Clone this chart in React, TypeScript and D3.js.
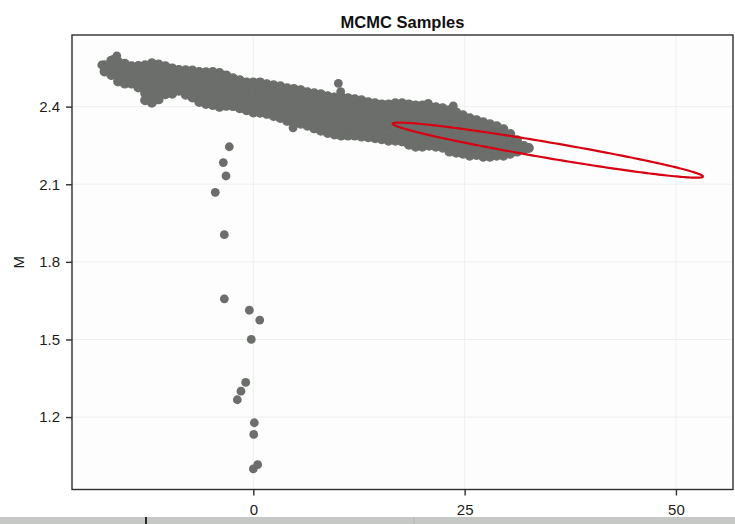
import React, { useEffect, useRef } from "react";
import * as d3 from "d3";

// chart values
const xTicks = [0, 25, 50];
const yTicks = [1.2, 1.5, 1.8, 2.1, 2.4];
const xDomain = [-21.45, 56.75];
const yDomain = [0.92, 2.677];

// dense band of samples, one entry per x column: [x, [M values]]
const bandColumns: [number, number[]][] = [
  [-17.6, [2.56, 2.536]],
  [-16.8, [2.578, 2.55, 2.522]],
  [-16.0, [2.574, 2.547, 2.52, 2.497]],
  [-15.2, [2.566, 2.538, 2.512, 2.489]],
  [-14.4, [2.556, 2.53, 2.505, 2.489]],
  [-13.6, [2.557, 2.529, 2.501, 2.474]],
  [-12.8, [2.56, 2.533, 2.506, 2.479, 2.452, 2.425]],
  [-12.0, [2.568, 2.541, 2.514, 2.487, 2.46, 2.433, 2.415]],
  [-11.2, [2.563, 2.536, 2.509, 2.482, 2.455, 2.428]],
  [-10.4, [2.556, 2.529, 2.502, 2.475, 2.448]],
  [-9.6, [2.548, 2.521, 2.494, 2.467, 2.45]],
  [-8.8, [2.542, 2.515, 2.488, 2.461]],
  [-8.0, [2.541, 2.514, 2.487, 2.46, 2.446]],
  [-7.2, [2.54, 2.512, 2.485, 2.458, 2.435]],
  [-6.4, [2.534, 2.507, 2.48, 2.453, 2.426, 2.418]],
  [-5.6, [2.533, 2.506, 2.479, 2.452, 2.425, 2.41]],
  [-4.8, [2.534, 2.507, 2.48, 2.453, 2.426, 2.406]],
  [-4.0, [2.53, 2.503, 2.476, 2.449, 2.422, 2.399]],
  [-3.2, [2.521, 2.494, 2.467, 2.44, 2.413, 2.403]],
  [-2.4, [2.51, 2.483, 2.456, 2.429, 2.402]],
  [-1.6, [2.502, 2.475, 2.448, 2.421, 2.394]],
  [-0.8, [2.494, 2.467, 2.44, 2.413, 2.386]],
  [0.0, [2.494, 2.467, 2.44, 2.413, 2.386, 2.377]],
  [0.8, [2.494, 2.467, 2.44, 2.413, 2.386, 2.376]],
  [1.6, [2.487, 2.46, 2.433, 2.406, 2.379, 2.372]],
  [2.4, [2.483, 2.456, 2.429, 2.402, 2.375, 2.364]],
  [3.2, [2.479, 2.452, 2.425, 2.398, 2.371, 2.356]],
  [4.0, [2.471, 2.444, 2.417, 2.39, 2.363, 2.345]],
  [4.8, [2.468, 2.441, 2.414, 2.387, 2.36, 2.335]],
  [5.6, [2.464, 2.437, 2.41, 2.383, 2.356, 2.334]],
  [6.4, [2.456, 2.429, 2.402, 2.375, 2.348, 2.326]],
  [7.2, [2.452, 2.425, 2.398, 2.371, 2.344, 2.316]],
  [8.0, [2.448, 2.421, 2.394, 2.367, 2.34, 2.313, 2.307]],
  [8.8, [2.44, 2.413, 2.386, 2.359, 2.332, 2.305, 2.298]],
  [9.6, [2.436, 2.409, 2.382, 2.355, 2.328, 2.301, 2.292]],
  [10.4, [2.436, 2.409, 2.382, 2.355, 2.328, 2.301, 2.288]],
  [11.2, [2.433, 2.406, 2.379, 2.352, 2.325, 2.298, 2.288]],
  [12.0, [2.429, 2.402, 2.375, 2.348, 2.321, 2.294, 2.288]],
  [12.8, [2.425, 2.398, 2.371, 2.344, 2.317, 2.29, 2.284]],
  [13.6, [2.417, 2.39, 2.363, 2.336, 2.309, 2.282]],
  [14.4, [2.413, 2.386, 2.359, 2.332, 2.305, 2.278]],
  [15.2, [2.409, 2.382, 2.355, 2.328, 2.301, 2.274]],
  [16.0, [2.409, 2.382, 2.355, 2.328, 2.301, 2.274, 2.268]],
  [16.8, [2.413, 2.386, 2.359, 2.332, 2.305, 2.278, 2.268]],
  [17.6, [2.413, 2.386, 2.359, 2.332, 2.305, 2.278, 2.265]],
  [18.4, [2.409, 2.382, 2.355, 2.328, 2.301, 2.274, 2.253]],
  [19.2, [2.405, 2.378, 2.351, 2.324, 2.297, 2.27, 2.245]],
  [20.0, [2.405, 2.378, 2.351, 2.324, 2.297, 2.27, 2.245]],
  [20.8, [2.402, 2.375, 2.348, 2.321, 2.294, 2.267, 2.249]],
  [21.6, [2.398, 2.371, 2.344, 2.317, 2.29, 2.263, 2.245]],
  [22.4, [2.394, 2.367, 2.34, 2.313, 2.286, 2.259, 2.241]],
  [23.2, [2.386, 2.359, 2.332, 2.305, 2.278, 2.251, 2.226]],
  [24.0, [2.378, 2.351, 2.324, 2.297, 2.27, 2.243, 2.222]],
  [24.8, [2.367, 2.34, 2.313, 2.286, 2.259, 2.232, 2.218]],
  [25.6, [2.355, 2.328, 2.301, 2.274, 2.247, 2.22, 2.21]],
  [26.4, [2.348, 2.321, 2.294, 2.267, 2.24, 2.213]],
  [27.2, [2.34, 2.313, 2.286, 2.259, 2.232, 2.206]],
  [28.0, [2.332, 2.305, 2.278, 2.251, 2.224, 2.206]],
  [28.8, [2.324, 2.297, 2.27, 2.243, 2.216, 2.21]],
  [29.6, [2.313, 2.286, 2.259, 2.232, 2.21]],
  [30.4, [2.294, 2.267, 2.24, 2.218]],
  [31.2, [2.27, 2.245, 2.226]],
  [32.0, [2.248, 2.234]],
  [32.6, [2.24]],
];

// loose samples around the band and the early burn-in trail
const strayPoints: [number, number][] = [
  [-17.93, 2.561], [-16.56, 2.583], [-16.15, 2.596],
  [4.7, 2.318], [10.06, 2.49], [10.34, 2.458],
  [20.7, 2.413], [23.66, 2.403],
  [-2.84, 2.245], [-3.55, 2.184], [-3.23, 2.132], [-4.5, 2.069],
  [-3.43, 1.905], [-3.43, 1.657], [-0.47, 1.613], [0.76, 1.575],
  [-0.24, 1.5], [-0.9, 1.334], [-1.46, 1.3], [-1.89, 1.267],
  [0.12, 1.178], [0.05, 1.133], [0.0, 1.0], [0.52, 1.016],
];

// red ellipse: centre, major and minor semi-axis vectors (data units)
const ellipseCenter = [34.85, 2.232];
const ellipseMajor = [18.35, -0.1025];
const ellipseMinor = [-0.307, -0.0292];

const width = 735;
const height = 524;
const left = 72;
const right = 733;
const top = 35;
const bottom = 489.5;
const dotColor = "#6b6e6a";
const font = "'Liberation Sans', Arial, Helvetica, sans-serif";

function App() {
  const svgRef = useRef<SVGSVGElement>(null);

  useEffect(() => {
    const svg = d3.select(svgRef.current);
    svg.selectAll("*").remove();

    const x = d3.scaleLinear().domain(xDomain).range([left, right]);
    const y = d3.scaleLinear().domain(yDomain).range([bottom, top]);

    svg.append("rect").attr("width", width).attr("height", height).attr("fill", "#ffffff");
    svg
      .append("rect")
      .attr("x", left)
      .attr("y", top)
      .attr("width", right - left)
      .attr("height", bottom - top)
      .attr("fill", "#fcfdfc");

    // grid
    const grid = svg.append("g").attr("stroke", "#eef0ee").attr("stroke-width", 1);
    xTicks.forEach((t) => {
      grid.append("line").attr("x1", x(t)).attr("x2", x(t)).attr("y1", top).attr("y2", bottom);
    });
    yTicks.forEach((t) => {
      grid.append("line").attr("x1", left).attr("x2", right).attr("y1", y(t)).attr("y2", y(t));
    });

    // samples: the band gets a thin same-colour stroke so neighbouring dots close up
    const bandPoints: [number, number][] = [];
    bandColumns.forEach(([cx, ys]) => ys.forEach((v) => bandPoints.push([cx, v])));
    svg
      .append("g")
      .selectAll("circle")
      .data(bandPoints)
      .join("circle")
      .attr("cx", (d) => x(d[0]))
      .attr("cy", (d) => y(d[1]))
      .attr("r", 4.3)
      .attr("fill", dotColor)
      .attr("stroke", dotColor)
      .attr("stroke-width", 1.3);
    svg
      .append("g")
      .selectAll("circle")
      .data(strayPoints)
      .join("circle")
      .attr("cx", (d) => x(d[0]))
      .attr("cy", (d) => y(d[1]))
      .attr("r", 4.4)
      .attr("fill", dotColor);

    // ellipse
    const angles = d3.range(0, 2 * Math.PI + 0.01, Math.PI / 120);
    const ellipseLine = d3
      .line<number>()
      .x((a) => x(ellipseCenter[0] + ellipseMajor[0] * Math.cos(a) + ellipseMinor[0] * Math.sin(a)))
      .y((a) => y(ellipseCenter[1] + ellipseMajor[1] * Math.cos(a) + ellipseMinor[1] * Math.sin(a)));
    svg
      .append("path")
      .attr("d", ellipseLine(angles))
      .attr("fill", "none")
      .attr("stroke", "#d60012")
      .attr("stroke-width", 2.2);

    // frame
    svg
      .append("rect")
      .attr("x", left)
      .attr("y", top)
      .attr("width", right - left)
      .attr("height", bottom - top)
      .attr("fill", "none")
      .attr("stroke", "#2e2e2e")
      .attr("stroke-width", 1.4);

    // axes
    const xAxis = svg
      .append("g")
      .attr("transform", `translate(0,${bottom})`)
      .call(d3.axisBottom(x).tickValues(xTicks).tickSize(6).tickPadding(9).tickFormat(d3.format("d")));
    const yAxis = svg
      .append("g")
      .attr("transform", `translate(${left},0)`)
      .call(d3.axisLeft(y).tickValues(yTicks).tickSize(6).tickPadding(6).tickFormat(d3.format(".1f")));
    [xAxis, yAxis].forEach((g) => {
      g.select(".domain").remove();
      g.selectAll(".tick line").attr("stroke", "#2e2e2e").attr("stroke-width", 1.4);
      g.selectAll(".tick text")
        .attr("fill", "#1c1c1c")
        .attr("font-family", font)
        .attr("font-size", 15);
    });

    // labels
    svg
      .append("text")
      .attr("x", (left + right) / 2)
      .attr("y", 27.5)
      .attr("text-anchor", "middle")
      .attr("font-family", font)
      .attr("font-weight", "bold")
      .attr("font-size", 16.5)
      .attr("fill", "#111")
      .text("MCMC Samples");
    svg
      .append("text")
      .attr("transform", `translate(23.5,${(top + bottom) / 2}) rotate(-90)`)
      .attr("text-anchor", "middle")
      .attr("font-family", font)
      .attr("font-size", 15)
      .attr("fill", "#1c1c1c")
      .text("M");

    // strip along the bottom of the screenshot
    svg.append("rect").attr("x", 0).attr("y", 517).attr("width", width).attr("height", 7).attr("fill", "#c6c8c5");
    svg.append("rect").attr("x", 145).attr("y", 517).attr("width", 2).attr("height", 7).attr("fill", "#2a2a2a");
    svg.append("rect").attr("x", 413.5).attr("y", 517).attr("width", 1).attr("height", 7).attr("fill", "#b4b6b3");
  }, []);

  return (
    <svg
      ref={svgRef}
      width={width}
      height={height}
      style={{ position: "absolute", left: 0, top: 0 }}
    />
  );
}

export default App;
